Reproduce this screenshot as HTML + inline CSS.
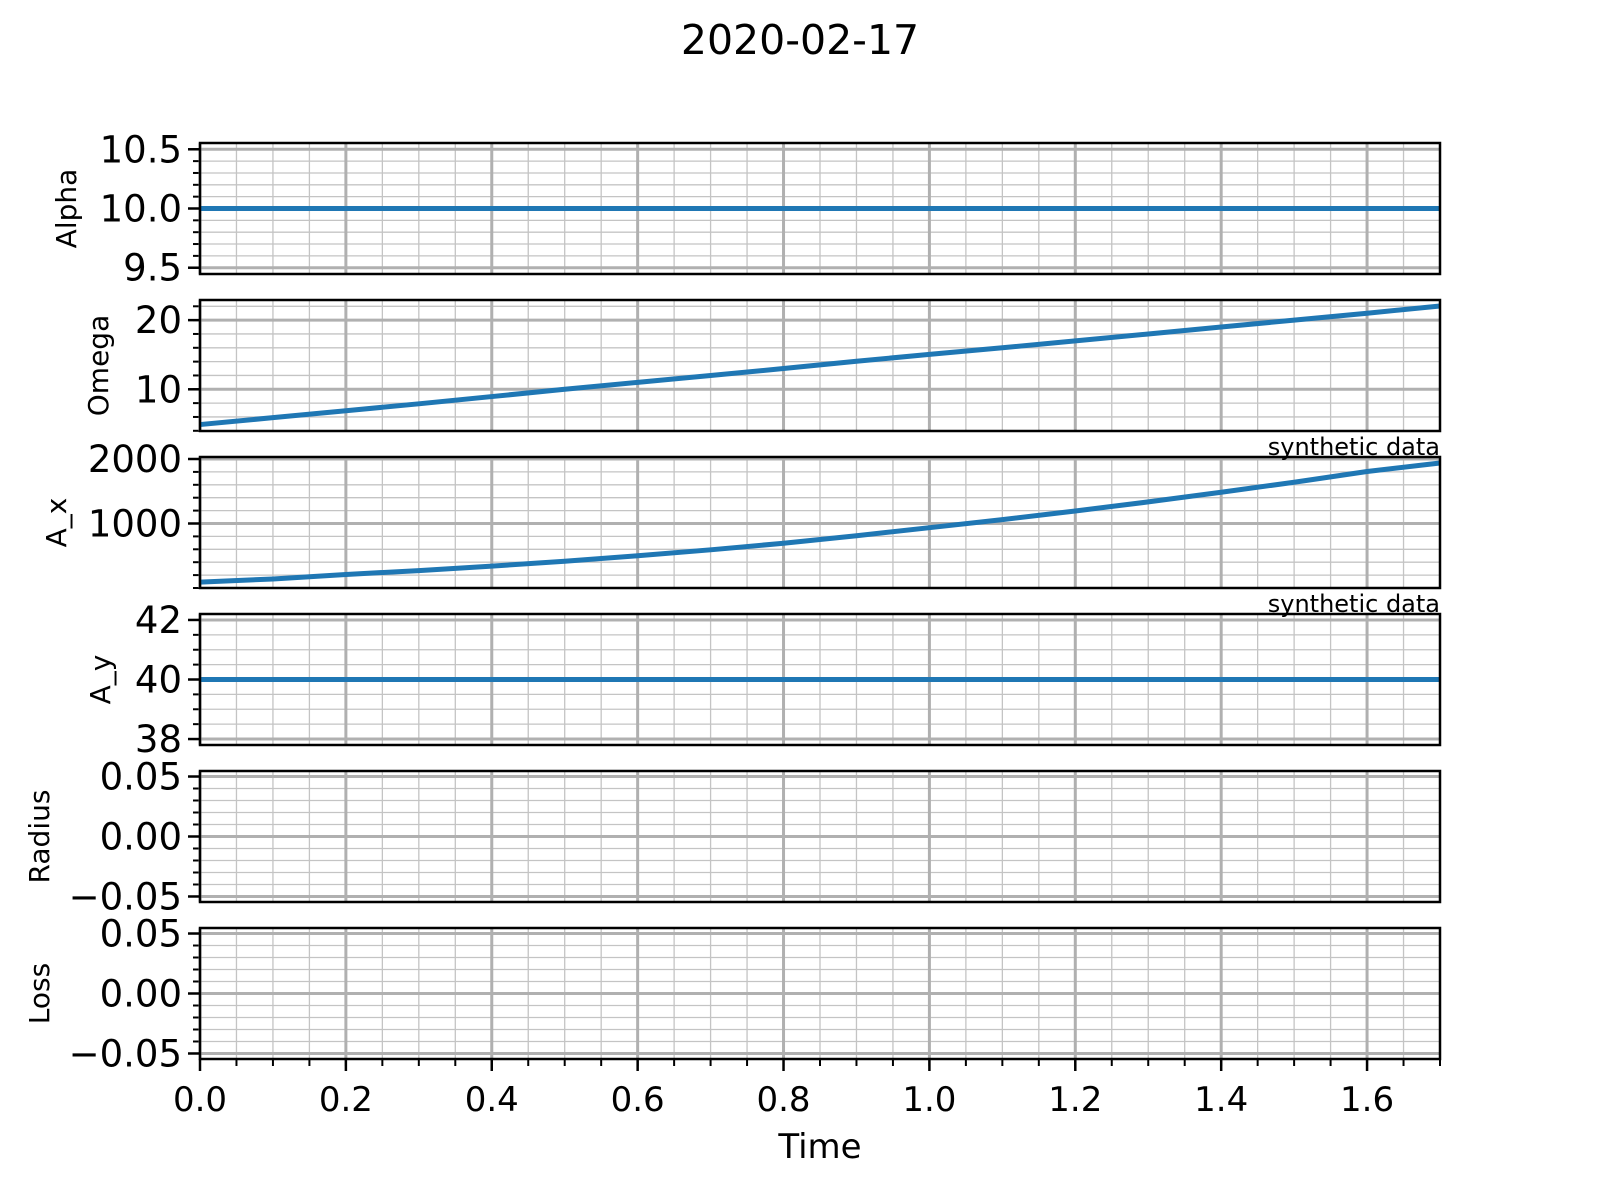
<!DOCTYPE html>
<html><head><meta charset="utf-8"><style>
body{margin:0;background:#fff;}
svg{display:block;font-family:"DejaVu Sans","Liberation Sans",sans-serif;}
</style></head><body>
<svg id="fig" width="1600" height="1190" viewBox="0 0 1600 1190" xmlns="http://www.w3.org/2000/svg">
<rect width="1600" height="1190" fill="#fff"/>
<text x="800" y="54" font-size="41" text-anchor="middle">2020-02-17</text>
<text x="820" y="1158" font-size="34" text-anchor="middle">Time</text>
</svg>
<script>
const times = [0,0.1,0.2,0.3,0.4,0.5,0.6,0.7,0.8,0.9,1.0,1.1,1.2,1.3,1.4,1.5,1.6,1.7];
const alphaVals = [10,10,10,10,10,10,10,10,10,10,10,10,10,10,10,10,10,10];
const omegaVals = [4.9,5.9,6.9,7.9,8.95,10,11,12,13,14.05,15.05,16,17,18,19,20,21,22.05];
const axVals = [92,140,210,270,339,415,500,592,694,810,935,1060,1194,1335,1484,1640,1806,1938];
const ayVals = [40,40,40,40,40,40,40,40,40,40,40,40,40,40,40,40,40,40];
const xTicks = [0,0.2,0.4,0.6,0.8,1.0,1.2,1.4,1.6];
const xTickLabels = ["0.0","0.2","0.4","0.6","0.8","1.0","1.2","1.4","1.6"];
const panelNames = ["Alpha","Omega","A_x","A_y","Radius","Loss"];
const yTickSets = [[9.5,10,10.5],[10,20],[1000,2000],[38,40,42],[-0.05,0,0.05],[-0.05,0,0.05]];
const yTickLabelSets = [["9.5","10.0","10.5"],["10","20"],["1000","2000"],["38","40","42"],["\u22120.05","0.00","0.05"],["\u22120.05","0.00","0.05"]];
const seriesSets = [alphaVals, omegaVals, axVals, ayVals, null, null];

const NS="http://www.w3.org/2000/svg";
const svg=document.getElementById('fig');
const L=200,R=1440,XMAX=1.70,PH=131;
const tops=[143,300,457,614,771,928];
const ylims=[[9.447,10.553],[3.97,22.91],[0,2031],[37.8,42.2],[-0.0546,0.0546],[-0.0546,0.0546]];
const yMinorStep=[0.1,2,200,0.5,0.01,0.01];
const labelX=[68,100,58,102,41,41];
const xs=v=>L+v/XMAX*(R-L);
function mk(tag,attrs,parent){const e=document.createElementNS(NS,tag);for(const k in attrs)e.setAttribute(k,attrs[k]);(parent||svg).appendChild(e);return e;}

panelNames.forEach((name,i)=>{
  const g=mk('g',{});
  
  
  const T=tops[i],B=T+PH,[y0,y1]=ylims[i];
  const ys=v=>B-(v-y0)/(y1-y0)*PH;
  for(let k=0;k*0.05<=XMAX+1e-9;k++){const v=k*0.05;const x=xs(v);
    mk('line',{x1:x,x2:x,y1:T,y2:B,stroke:'#c4c4c4','stroke-width':1.3},g);}
  const st=yMinorStep[i];
  for(let v=Math.ceil(y0/st)*st;v<=y1+1e-9;v+=st){const y=ys(v);
    mk('line',{x1:L,x2:R,y1:y,y2:y,stroke:'#c4c4c4','stroke-width':1.3},g);
    mk('line',{x1:L-7,x2:L,y1:y,y2:y,stroke:'#000','stroke-width':2},g);}
  xTicks.forEach(v=>{const x=xs(v);mk('line',{x1:x,x2:x,y1:T,y2:B,stroke:'#b0b0b0','stroke-width':3},g);});
  yTickSets[i].forEach((v,j)=>{const y=ys(v);
    mk('line',{x1:L,x2:R,y1:y,y2:y,stroke:'#b0b0b0','stroke-width':3},g);
    mk('line',{x1:L-12,x2:L,y1:y,y2:y,stroke:'#000','stroke-width':2.5},g);
    const t=mk('text',{x:L-18,y:y+13,'font-size':37,'text-anchor':'end'},g);
    
    
    t.textContent=yTickLabelSets[i][j];});
  const s=seriesSets[i];
  if(s){const pts=times.map((t,k)=>xs(t).toFixed(2)+','+ys(s[k]).toFixed(2)).join(' ');
    const p=mk('polyline',{points:pts,fill:'none',stroke:'#1f77b4','stroke-width':5},g);
    
    }
  mk('rect',{x:L,y:T,width:R-L,height:PH,fill:'none',stroke:'#000','stroke-width':2.5},g);
  const cy=T+PH/2;
  const yl=mk('text',{x:labelX[i],y:cy,'font-size':28,'text-anchor':'middle',transform:`rotate(-90 ${labelX[i]} ${cy})`,'dominant-baseline':'middle'},g);
  
  
  yl.textContent=name;
  if(i===5){
    for(let k=0;k*0.05<=XMAX+1e-9;k++){const x=xs(k*0.05);
      mk('line',{x1:x,x2:x,y1:B,y2:B+7,stroke:'#000','stroke-width':2},g);}
    xTicks.forEach((v,j)=>{const x=xs(v);
      mk('line',{x1:x,x2:x,y1:B,y2:B+12,stroke:'#000','stroke-width':2.5},g);
      const t=mk('text',{x:x,y:B+52,'font-size':34,'text-anchor':'middle'},g);
      
      
      t.textContent=xTickLabels[j];});
  }
});
[457,614].forEach(T=>{
  const t=mk('text',{x:1440,y:T-2,'font-size':24,'text-anchor':'end'});
  
  
  t.textContent='synthetic data';
});
</script>
</body></html>
